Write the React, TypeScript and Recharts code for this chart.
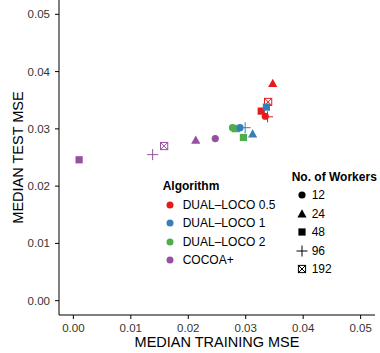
import React from 'react';
import { ScatterChart, Scatter, XAxis, YAxis, Label } from 'recharts';

const workerCounts = [12, 24, 48, 96, 192];
const algorithmNames = ['DUAL–LOCO 0.5', 'DUAL–LOCO 1', 'DUAL–LOCO 2', 'COCOA+'];
const algorithmColors = ['#E41A1C', '#377EB8', '#4DAF4A', '#984EA3'];
const axisTicks = [0, 0.01, 0.02, 0.03, 0.04, 0.05];

const dualLoco05Train = [0.0334, 0.0347, 0.0327, 0.0338, 0.0339];
const dualLoco05Test = [0.0322, 0.0379, 0.0331, 0.0321, 0.0347];
const dualLoco1Train = [0.029, 0.0312, 0.0336, 0.0299, null];
const dualLoco1Test = [0.0302, 0.0291, 0.0338, 0.0302, null];
const dualLoco2Train = [0.0277, 0.0283, 0.0296, null, null];
const dualLoco2Test = [0.0302, 0.03, 0.0285, null, null];
const cocoaTrain = [0.0247, 0.0213, 0.001, 0.0138, 0.0158];
const cocoaTest = [0.0283, 0.028, 0.0246, 0.0255, 0.027];

const trainSeries = [dualLoco05Train, dualLoco1Train, dualLoco2Train, cocoaTrain];
const testSeries = [dualLoco05Test, dualLoco1Test, dualLoco2Test, cocoaTest];

const buildPoints = (i: number) =>
  workerCounts
    .map((w, j) => ({ workers: w, train: trainSeries[i][j], test: testSeries[i][j] }))
    .filter((p) => p.train !== null && p.test !== null);

const FONT = '"Liberation Sans", Arial, sans-serif';

function Marker({ cx, cy, workers, color }: { cx: number; cy: number; workers: number; color: string }) {
  switch (workers) {
    case 12:
      return <circle cx={cx} cy={cy} r={3.6} fill={color} />;
    case 24:
      return (
        <polygon
          points={`${cx},${cy - 4.8} ${cx - 4.6},${cy + 3.4} ${cx + 4.6},${cy + 3.4}`}
          fill={color}
        />
      );
    case 48:
      return <rect x={cx - 3.6} y={cy - 3.6} width={7.2} height={7.2} fill={color} />;
    case 96:
      return (
        <g stroke={color} strokeWidth={1}>
          <line x1={cx - 5.5} y1={cy} x2={cx + 5.5} y2={cy} />
          <line x1={cx} y1={cy - 5.5} x2={cx} y2={cy + 5.5} />
        </g>
      );
    default:
      return (
        <g stroke={color} strokeWidth={1} fill="none">
          <rect x={cx - 3.6} y={cy - 3.6} width={7.2} height={7.2} />
          <line x1={cx - 3.6} y1={cy - 3.6} x2={cx + 3.6} y2={cy + 3.6} />
          <line x1={cx - 3.6} y1={cy + 3.6} x2={cx + 3.6} y2={cy - 3.6} />
        </g>
      );
  }
}

const drawOrder = [0, 2, 1, 3];

export default function App() {
  return (
    <div style={{ position: 'absolute', left: 0, top: 0, width: 380, height: 353, background: '#fff', fontFamily: FONT }}>
      <ScatterChart width={380} height={353} margin={{ top: 0, right: 5, bottom: 0, left: 0 }}>
        <XAxis
          type="number"
          dataKey="train"
          domain={[-0.0025, 0.0525]}
          ticks={axisTicks}
          tickFormatter={(v: number) => v.toFixed(2)}
          height={38}
          tickSize={4}
          tickMargin={5}
          stroke="#000"
          tick={{ fill: '#333', fontSize: 11.5, fontFamily: FONT }}
          allowDataOverflow
        >
          <Label value="MEDIAN TRAINING MSE" position="center" dy={8} style={{ fontSize: 14.5, fill: '#000', fontFamily: FONT }} />
        </XAxis>
        <YAxis
          type="number"
          dataKey="test"
          domain={[-0.0025, 0.0525]}
          ticks={axisTicks}
          tickFormatter={(v: number) => v.toFixed(2)}
          width={59}
          tickSize={4}
          tickMargin={5}
          stroke="#000"
          tick={{ fill: '#333', fontSize: 11.5, fontFamily: FONT }}
          allowDataOverflow
        >
          <Label value="MEDIAN TEST MSE" position="center" angle={-90} dx={-12} style={{ fontSize: 14.5, fill: '#000', fontFamily: FONT, textAnchor: 'middle' }} />
        </YAxis>
        {drawOrder.map((i) => (
          <Scatter
            key={i}
            name={algorithmNames[i]}
            data={buildPoints(i)}
            isAnimationActive={false}
            shape={(props: any) => (
              <Marker cx={props.cx} cy={props.cy} workers={props.payload.workers} color={algorithmColors[i]} />
            )}
          />
        ))}
      </ScatterChart>

      <div style={{ position: 'absolute', left: 162.7, top: 179.7, fontSize: 12, lineHeight: '12px', fontWeight: 'bold', whiteSpace: 'nowrap' }}>
        Algorithm
      </div>
      {algorithmNames.map((name, i) => (
        <React.Fragment key={name}>
          <svg style={{ position: 'absolute', left: 165, top: 199.5 + i * 18.5 }} width={10} height={10}>
            <circle cx={5} cy={5} r={3.5} fill={algorithmColors[i]} />
          </svg>
          <div style={{ position: 'absolute', left: 182.7, top: 198.5 + i * 18.5, fontSize: 12, lineHeight: '12px', whiteSpace: 'nowrap' }}>
            {name}
          </div>
        </React.Fragment>
      ))}

      <div style={{ position: 'absolute', left: 291.7, top: 170.7, fontSize: 12, lineHeight: '12px', fontWeight: 'bold', whiteSpace: 'nowrap' }}>
        No. of Workers
      </div>
      {workerCounts.map((w, i) => (
        <React.Fragment key={w}>
          <svg style={{ position: 'absolute', left: 294.7, top: 188 + i * 18.6 }} width={14} height={14}>
            <Marker cx={7} cy={7} workers={w} color="#000" />
          </svg>
          <div style={{ position: 'absolute', left: 311.7, top: 189 + i * 18.6, fontSize: 12, lineHeight: '12px', whiteSpace: 'nowrap' }}>
            {w}
          </div>
        </React.Fragment>
      ))}
    </div>
  );
}
